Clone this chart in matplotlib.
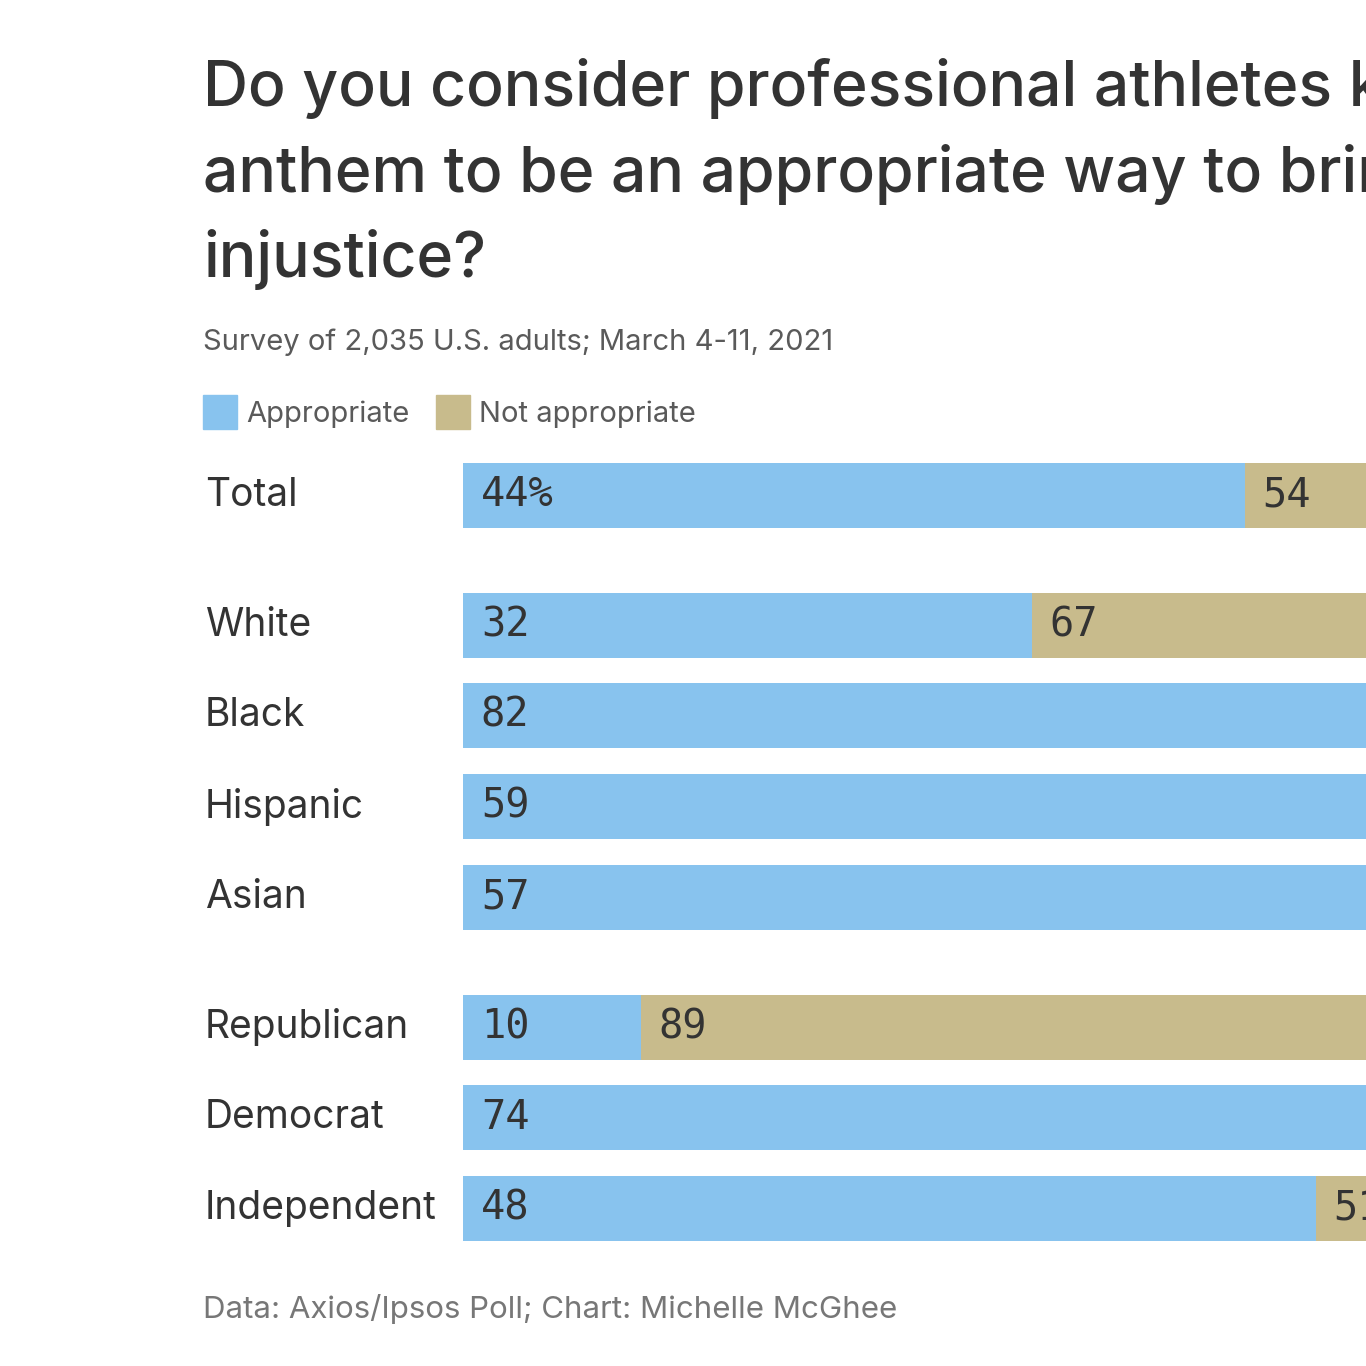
import numpy as np
import matplotlib
matplotlib.use("Agg")
import matplotlib.pyplot as plt
from matplotlib.patches import Rectangle
from matplotlib.transforms import blended_transform_factory

# ---- data ----
categories = ["Total", "White", "Black", "Hispanic", "Asian",
              "Republican", "Democrat", "Independent"]
groups = [0, 1, 1, 1, 1, 2, 2, 2]
appropriate = [44, 32, 82, 59, 57, 10, 74, 48]
not_appropriate = [54, 67, 16, 39, 41, 89, 25, 51]
value_labels = ["44%", "32", "82", "59", "57", "10", "74", "48"]
not_labels = ["54", "67", "16", "39", "41", "89", "25", "51"]

BLUE = "#88c3ee"
TAN = "#c8bb8c"
DARK = "#333333"
GREY = "#5a5a5a"

W = H = 1366
fig = plt.figure(figsize=(W / 100, H / 100), dpi=100)
fig.patch.set_facecolor("white")

def fx(px):
    return px / W

def fy(px):
    return 1 - px / H

sans = ["Inter", "DejaVu Sans"]
mono = "DejaVu Sans Mono"

# titel
title_lines = ["Do you consider professional athletes kneeling during the national",
               "anthem to be an appropriate way to bring attention to racial",
               "injustice?"]
for i, line in enumerate(title_lines):
    fig.text(fx(203), fy(105 + 86 * i), line, fontsize=45, family=sans,
             color=DARK, va="baseline", ha="left", fontweight="medium")

fig.text(fx(203), fy(350), "Survey of 2,035 U.S. adults; March 4-11, 2021",
         fontsize=21, family=sans, color=GREY, va="baseline")

# legend
fig.patches.append(Rectangle((fx(203), fy(429)), fx(34), 34 / H,
                             transform=fig.transFigure, color=BLUE))
fig.text(fx(246), fy(422), "Appropriate", fontsize=21, family=sans,
         color=GREY, va="baseline")
fig.patches.append(Rectangle((fx(436), fy(429)), fx(34), 34 / H,
                             transform=fig.transFigure, color=TAN))
fig.text(fx(479), fy(422), "Not appropriate", fontsize=21, family=sans,
         color=GREY, va="baseline")

# bars - axes runs past the right edge like the cropped original
ypos = np.arange(len(categories)) + (1.43 - 1) * np.array(groups)
half = 0.357
top_px, bot_px = 463, 1241
ax = fig.add_axes([fx(463), fy(bot_px), 1777 / W, (bot_px - top_px) / H])
ax.barh(ypos, appropriate, height=2 * half, color=BLUE)
ax.barh(ypos, not_appropriate, left=appropriate, height=2 * half, color=TAN)
ax.set_xlim(0, 100)
ax.set_ylim(ypos[-1] + half, ypos[0] - half)
ax.axis("off")

for y, a, lab, nlab in zip(ypos, appropriate, value_labels, not_labels):
    ax.text(1.0, y, lab, fontsize=29, family=mono, color=DARK,
            va="center", ha="left")
    ax.text(a + 1.0, y, nlab, fontsize=29, family=mono, color=DARK,
            va="center", ha="left")

trans = blended_transform_factory(fig.transFigure, ax.transData)
for y, cat in zip(ypos, categories):
    ax.text(fx(205), y, cat, transform=trans, fontsize=28, family=sans,
            color=DARK, va="center", ha="left")

fig.text(fx(203), fy(1318), "Data: Axios/Ipsos Poll; Chart: Michelle McGhee",
         fontsize=22.5, family=sans, color="#777777", va="baseline")

fig.savefig("out.png", dpi=100)
